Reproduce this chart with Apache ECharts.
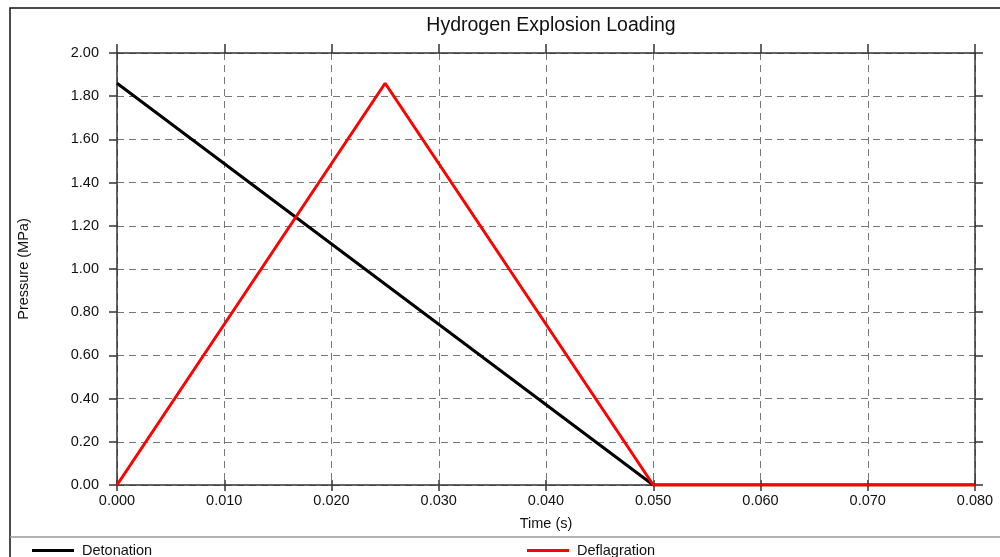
<!DOCTYPE html>
<html><head><meta charset="utf-8">
<script src="https://cdn.jsdelivr.net/npm/echarts@6/dist/echarts.min.js"></script>
<style>html,body{margin:0;padding:0;background:#fff}#c{width:1000px;height:557px}</style>
</head><body><div id="c"></div>
<script>
const title = 'Hydrogen Explosion Loading';
const xName = 'Time (s)';
const yName = 'Pressure (MPa)';
const detonationT = [0.000, 0.050, 0.080];
const detonationP = [1.86, 0.00, 0.00];
const deflagrationT = [0.000, 0.025, 0.050, 0.080];
const deflagrationP = [0.00, 1.86, 0.00, 0.00];
const seriesNames = ['Detonation', 'Deflagration'];

const pairs = (t, p) => t.map((v, i) => [v, p[i]]);
const chart = echarts.init(document.getElementById('c'));
const font = 'Arial, "Liberation Sans", sans-serif';
const fs = 14.5;
const axisLineStyle = { color: '#333', width: 1.5 };
const gridStyle = { color: '#777', type: [7, 5], width: 1 };

chart.setOption({
  animation: false,
  textStyle: { fontFamily: font },
  title: { text: title, left: 546, top: 11, textAlign: 'center',
    textStyle: { fontSize: 19.5, fontWeight: 'normal', color: '#111', fontFamily: font } },
  grid: { left: 117, right: 25, top: 53, bottom: 72 },
  legend: [
    { data: [seriesNames[0]], left: 27, top: 538, itemWidth: 42, itemHeight: 3, itemGap: 10,
      icon: 'rect', textStyle: { fontSize: fs, color: '#111', fontFamily: font, padding: [0, 0, 0, 3] } },
    { data: [seriesNames[1]], left: 522, top: 538, itemWidth: 42, itemHeight: 3, itemGap: 10,
      icon: 'rect', textStyle: { fontSize: fs, color: '#111', fontFamily: font, padding: [0, 0, 0, 3] } }
  ],
  xAxis: [
    { type: 'value', min: 0, max: 0.08, interval: 0.01, position: 'bottom',
      name: xName, nameLocation: 'middle', nameGap: 31,
      nameTextStyle: { fontSize: fs, color: '#111', fontFamily: font },
      axisLine: { show: true, onZero: false, lineStyle: axisLineStyle },
      axisTick: { show: true, length: 6, lineStyle: axisLineStyle },
      axisLabel: { formatter: v => v.toFixed(3), fontSize: fs, color: '#111', margin: 8, fontFamily: font },
      splitLine: { show: true, lineStyle: gridStyle } },
    { type: 'value', min: 0, max: 0.08, interval: 0.01, position: 'top',
      axisLine: { show: true, onZero: false, lineStyle: axisLineStyle },
      axisTick: { show: true, length: 9, lineStyle: axisLineStyle },
      axisLabel: { show: false }, splitLine: { show: false } },
    { type: 'value', min: 0, max: 0.08, interval: 0.01, position: 'bottom',
      axisLine: { show: false, onZero: false },
      axisTick: { show: true, inside: true, length: 5, lineStyle: axisLineStyle },
      axisLabel: { show: false }, splitLine: { show: false } }
  ],
  yAxis: [
    { type: 'value', min: 0, max: 2, interval: 0.2, position: 'left',
      name: yName, nameLocation: 'middle', nameGap: 86, nameRotate: 90,
      nameTextStyle: { fontSize: fs, color: '#111', fontFamily: font },
      axisLine: { show: true, onZero: false, lineStyle: axisLineStyle },
      axisTick: { show: true, length: 8, lineStyle: axisLineStyle },
      axisLabel: { formatter: v => v.toFixed(2), fontSize: fs, color: '#111', margin: 18, fontFamily: font },
      splitLine: { show: true, lineStyle: gridStyle } },
    { type: 'value', min: 0, max: 2, interval: 0.2, position: 'right',
      axisLine: { show: true, onZero: false, lineStyle: axisLineStyle },
      axisTick: { show: true, length: 8, lineStyle: axisLineStyle },
      axisLabel: { show: false }, splitLine: { show: false } }
  ],
  series: [
    { name: seriesNames[0], type: 'line', data: pairs(detonationT, detonationP),
      symbol: 'none', lineStyle: { color: '#000', width: 3 }, itemStyle: { color: '#000' }, z: 3 },
    { name: seriesNames[1], type: 'line', data: pairs(deflagrationT, deflagrationP),
      symbol: 'none', lineStyle: { color: '#ff0000', width: 3 }, itemStyle: { color: '#ff0000' }, z: 4 }
  ],
  graphic: [
    { type: 'rect', shape: { x: 10, y: 8, width: 1000, height: 560 },
      style: { fill: 'none', stroke: '#111', lineWidth: 1.5 }, silent: true, z: -1 },
    { type: 'line', shape: { x1: 10, y1: 537, x2: 1000, y2: 537 },
      style: { stroke: '#999', lineWidth: 1.5 }, silent: true }
  ]
});
</script></body></html>
